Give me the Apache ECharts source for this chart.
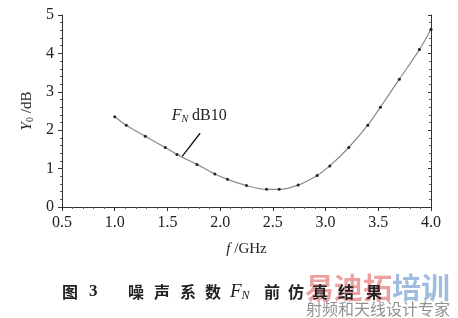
<!DOCTYPE html>
<html><head><meta charset="utf-8">
<script src="https://cdn.jsdelivr.net/npm/echarts@6/dist/echarts.min.js"></script>
<style>html,body{margin:0;padding:0;background:#fff}#c{width:458px;height:318px}</style>
</head><body><div id="c"></div>
<script>
const freq = [1.0,1.11,1.29,1.48,1.59,1.78,1.95,2.07,2.25,2.44,2.56,2.74,2.92,3.04,3.22,3.40,3.52,3.70,3.89,4.0];
const noise = [2.35,2.13,1.84,1.55,1.37,1.11,0.86,0.72,0.56,0.46,0.46,0.57,0.82,1.07,1.55,2.13,2.60,3.33,4.10,4.63];
const xTicks = [0.5,1.0,1.5,2.0,2.5,3.0,3.5,4.0];
const yTicks = [0,1,2,3,4,5];
const annoText = [1.54, 2.37];
const annoLine = [[1.81,1.92],[1.64,1.32]];
const captionParts = ['图','3','噪','声','系','数','F_N','前','仿','真','结','果'];

const serif = '"Liberation Serif","DejaVu Serif",serif';
const cjk = '"Noto Sans CJK SC"';
const chart = echarts.init(document.getElementById('c'));
const axisCommon = {
  axisLine:{show:true,lineStyle:{color:'#333',width:1}},
  axisTick:{show:true,inside:false,length:4,lineStyle:{color:'#333'}},
  minorTick:{show:true,splitNumber:5,length:2,lineStyle:{color:'#555'}},
  splitLine:{show:false}
};
chart.setOption({
  animation:false,
  grid:{left:62,right:27,top:15,bottom:111},
  xAxis:[
    Object.assign({type:'value',min:xTicks[0],max:xTicks[xTicks.length-1],interval:0.5,
      axisLabel:{color:'#222',fontFamily:serif,fontSize:16,margin:8,formatter:v=>v.toFixed(1)},
      name:'{i|f} /GHz',nameLocation:'middle',nameGap:35,
      nameTextStyle:{color:'#222',fontFamily:serif,fontSize:15,rich:{i:{fontStyle:'italic',fontFamily:serif,fontSize:15}}}
    },axisCommon),
    Object.assign({type:'value',position:'top',min:0.5,max:4.0,interval:0.5,axisLabel:{show:false}},axisCommon,
      {axisTick:{show:true,inside:true,length:3,lineStyle:{color:'#333'}},minorTick:{show:true,splitNumber:5,length:2,lineStyle:{color:'#666'}}})
  ],
  yAxis:[
    Object.assign({type:'value',min:yTicks[0],max:yTicks[yTicks.length-1],interval:1,
      axisLabel:{color:'#222',fontFamily:serif,fontSize:16,margin:8},
      name:'{i|Y}{s|0} /dB',nameLocation:'middle',nameGap:27,nameRotate:90,
      nameTextStyle:{color:'#222',fontFamily:serif,fontSize:15,rich:{i:{fontStyle:'italic',fontFamily:serif,fontSize:15},s:{fontFamily:serif,fontSize:10,verticalAlign:'bottom',padding:[6,0,0,0]}}}
    },axisCommon),
    Object.assign({type:'value',position:'right',min:0,max:5,interval:1,axisLabel:{show:false}},axisCommon,
      {axisTick:{show:true,inside:true,length:3,lineStyle:{color:'#333'}},minorTick:{show:true,splitNumber:5,length:2,lineStyle:{color:'#666'}}})
  ],
  series:[{
    type:'line',smooth:0.35,data:freq.map((f,i)=>[f,noise[i]]),
    lineStyle:{color:'#8a8a8a',width:1.2},
    symbol:'circle',symbolSize:3,itemStyle:{color:'#222'},showSymbol:true
  }]
});
const p1 = chart.convertToPixel({xAxisIndex:0,yAxisIndex:0},annoLine[0]);
const p2 = chart.convertToPixel({xAxisIndex:0,yAxisIndex:0},annoLine[1]);
const pt = chart.convertToPixel({xAxisIndex:0,yAxisIndex:0},annoText);
const capX = [62,89,128,154,180,205,230,264,288,312,338,366];
const capY = 292;
const capEls = captionParts.map((ch,i)=>{
  if(ch==='F_N'){
    return {type:'text',x:capX[i],y:capY,z:10,style:{text:'{i|F}{s|N}',verticalAlign:'middle',
      rich:{i:{fontFamily:serif,fontStyle:'italic',fontSize:19,fill:'#222'},
        s:{fontFamily:serif,fontStyle:'italic',fontSize:12,padding:[8,0,0,0],fill:'#222'}}}};
  }
  const isDigit = /\d/.test(ch);
  return {type:'text',x:capX[i],y:capY,z:10,style:{text:ch,verticalAlign:'middle',fill:'#222',
    font: isDigit ? 'bold 17px '+serif : 'bold 16px '+cjk}};
});
chart.setOption({graphic:[
  {type:'line',shape:{x1:p1[0],y1:p1[1],x2:p2[0],y2:p2[1]},style:{stroke:'#111',lineWidth:1.3}},
  {type:'text',x:pt[0],y:pt[1],style:{text:'{i|F}{s|N} dB10',fill:'#222',verticalAlign:'middle',font:'16px '+serif,
    rich:{i:{fontStyle:'italic',fontFamily:serif,fontSize:16},s:{fontStyle:'italic',fontFamily:serif,fontSize:10,padding:[7,0,0,0]}}}},
  {type:'text',x:305,y:288,z:1,style:{text:'{r|易迪拓}{b|培训}',verticalAlign:'middle',
    rich:{r:{fontFamily:cjk,fontSize:29,fontWeight:'bold',fill:'rgba(230,120,120,0.7)'},
      b:{fontFamily:cjk,fontSize:29,fontWeight:'bold',fill:'rgba(120,160,210,0.7)'}}}},
  {type:'text',x:306,y:309,z:1,style:{text:'射频和天线设计专家',verticalAlign:'middle',fill:'rgba(110,110,110,0.75)',
    font:'16px '+cjk}}
].concat(capEls)});
</script></body></html>
